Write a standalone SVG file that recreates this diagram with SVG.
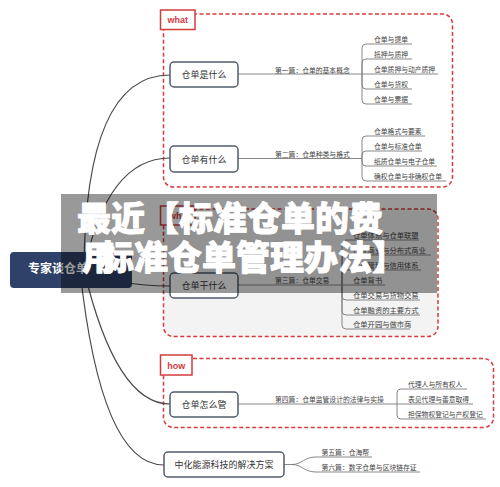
<svg xmlns="http://www.w3.org/2000/svg" width="500" height="487" viewBox="0 0 500 487">
<style>
.cjk{font-family:"Noto Sans CJK SC","Noto Sans",sans-serif}
.node rect{fill:#fff;stroke:#525c6c;stroke-width:1.5}
.node text{font-family:"Noto Sans CJK SC",sans-serif;font-size:9px;fill:#333;text-anchor:middle}
.main{fill:none;stroke:#4a4a4a;stroke-width:1.2}
.sub{fill:none;stroke:#7a7a7a;stroke-width:0.9}
.lbl{font-family:"Noto Sans CJK SC",sans-serif;font-size:6.8px;fill:#444}
.it{font-family:"Noto Sans CJK SC",sans-serif;font-size:6.8px;fill:#444}
.it3{font-family:"Noto Sans CJK SC",sans-serif;font-size:7.3px;fill:#444}
.dash{fill:none;stroke:#d43c3c;stroke-width:1.5;stroke-dasharray:4 2.5}
.tag rect{fill:#fff;stroke:#d43c3c;stroke-width:1.5}
.tag text{font-family:"Liberation Sans",Arial,sans-serif;font-size:9px;font-weight:bold;fill:#d43c3c;text-anchor:middle}
.ov{font-family:"Noto Sans CJK SC",sans-serif;font-size:34px;font-weight:900;fill:#fff;stroke:#fff;stroke-width:0.9;stroke-linejoin:round}
</style>
<rect width="500" height="487" fill="#fff"/>

<g id="frames">
<rect class="dash" x="163.5" y="14" width="289" height="173" rx="10"/>
<rect class="dash" x="163.5" y="209" width="274.5" height="127.5" rx="10" style="fill:#f3f3f3"/>
<rect class="dash" x="163.5" y="358.5" width="330" height="69" rx="10"/>
</g>

<g id="connectors">
<path class="main" d="M84 270 Q85 75 170 75"/>
<path class="main" d="M84 270 Q107 158 170 158"/>
<path class="main" d="M84 270 Q118 286 170 286"/>
<path class="main" d="M84 270 Q116 404 170 404"/>
<path class="main" d="M80 270 Q101 465 164 465"/>

<path class="sub" d="M238 74 H362"/>
<path class="sub" d="M362 74 V48 Q362 44 366 44 H412"/>
<path class="sub" d="M362 74 V63 Q362 59 366 59 H412"/>
<path class="sub" d="M362 74 H438"/>
<path class="sub" d="M362 74 V85 Q362 89 366 89 H412"/>
<path class="sub" d="M362 74 V100 Q362 104 366 104 H412"/>

<path class="sub" d="M238 158.5 H362"/>
<path class="sub" d="M362 158.5 V140 Q362 136 366 136 H425"/>
<path class="sub" d="M362 158.5 V155 Q362 151 366 151 H422"/>
<path class="sub" d="M362 158.5 V162 Q362 166 366 166 H437"/>
<path class="sub" d="M362 158.5 V177 Q362 181 366 181 H446"/>

<path class="sub" d="M238 285 H342"/>
<path class="sub" d="M342 285 V244 Q342 240 346 240 H419"/>
<path class="sub" d="M342 285 V259 Q342 255 346 255 H431"/>
<path class="sub" d="M342 285 V274 Q342 270 346 270 H421"/>
<path class="sub" d="M342 285 H385"/>
<path class="sub" d="M342 285 V296 Q342 300 346 300 H420"/>
<path class="sub" d="M342 285 V311 Q342 315 346 315 H420"/>
<path class="sub" d="M342 285 V325 Q342 329 346 329 H410"/>

<path class="sub" d="M238 404 H397"/>
<path class="sub" d="M397 404 V393 Q397 389 401 389 H467"/>
<path class="sub" d="M397 404 H473"/>
<path class="sub" d="M397 404 V415 Q397 419 401 419 H486"/>

<path class="sub" d="M284 464.5 H292 C302 464.5 304 457 316 457 H372"/>
<path class="sub" d="M292 464.5 C302 464.5 304 472 316 472 H420"/>
</g>

<g id="root">
<rect x="10" y="252" width="122" height="36" rx="4" fill="#2f4168"/>
<text class="cjk" x="28" y="273" font-size="12" font-weight="bold" fill="#fff">专家谈仓单</text>
</g>

<g id="n1" class="node"><rect x="170" y="62" width="68" height="25" rx="4"/><text x="204" y="78">仓单是什么</text></g>
<g id="n2" class="node"><rect x="170" y="146" width="68" height="26" rx="4"/><text x="204" y="162.5">仓单有什么</text></g>
<g id="n3" class="node"><rect x="170" y="273" width="68" height="25" rx="4"/><text x="204" y="289">仓单干什么</text></g>
<g id="n4" class="node"><rect x="170" y="392" width="68" height="25" rx="4"/><text x="204" y="408">仓单怎么管</text></g>
<g id="n5" class="node"><rect x="164" y="452" width="120" height="25" rx="4"/><text x="224" y="468">中化能源科技的解决方案</text></g>

<g id="tags">
<g class="tag"><rect x="160.5" y="10" width="34.5" height="19.5"/><text x="177.7" y="23.3">what</text></g>
<g class="tag"><rect x="160.5" y="206" width="34.5" height="19"/><text x="177.7" y="219">why</text></g>
<g class="tag"><rect x="160.5" y="355" width="31.5" height="20"/><text x="176.2" y="368.5">how</text></g>
</g>

<g id="labels">
<text class="lbl" x="275" y="72.5">第一篇：仓单的基本概念</text>
<text class="lbl" x="275" y="156.5">第二篇：仓单种类与格式</text>
<text class="lbl" x="275" y="283">第三篇：仓单交易</text>
<text class="lbl" x="275" y="402">第四篇：仓单监管设计的法律与实操</text>
</g>

<g id="items1">
<text class="it" x="374" y="41.5">仓单与提单</text>
<text class="it" x="374" y="56.5">抵押与质押</text>
<text class="it" x="374" y="71.5">仓单质押与动产质押</text>
<text class="it" x="374" y="86.5">仓单与货权</text>
<text class="it" x="374" y="101.5">仓单与票据</text>
</g>
<g id="items2">
<text class="it" x="374" y="133.5">仓单格式与要素</text>
<text class="it" x="374" y="148.5">仓单与标准仓单</text>
<text class="it" x="374" y="163.5">纸质仓单与电子仓单</text>
<text class="it" x="374" y="178.5">确权仓单与非确权仓单</text>
</g>
<g id="items3">
<text class="it3" x="353" y="237.5">仓单体系与仓单联盟</text>
<text class="it3" x="353" y="252.5">传统商业与分布式商业</text>
<text class="it3" x="353" y="267.5">仓单管理与信用体系</text>
<text class="it3" x="353" y="282.5">仓单背书</text>
<text class="it3" x="353" y="297.5">仓单交易与货物交易</text>
<text class="it3" x="353" y="312.5">仓单融资的主要方式</text>
<text class="it3" x="353" y="326.5">仓单开园与做市商</text>
</g>
<g id="items4">
<text class="it" x="408" y="386.5">代理人与所有权人</text>
<text class="it" x="408" y="401.5">表见代理与善意取得</text>
<text class="it" x="408" y="416.5">担保物权登记与产权登记</text>
</g>
<g id="items5">
<text class="it" x="321.5" y="454.5">第五篇：仓海帮</text>
<text class="it" x="321.5" y="469.5">第六篇：数字仓单与区块链存证</text>
</g>

<g id="overlay">
<rect x="61" y="194" width="376" height="99" fill="#000" fill-opacity="0.4"/>
<text class="ov" x="77" y="231">最近【标准仓单的费</text>
<text class="ov" x="82" y="270">用</text>
<text class="ov" x="100" y="270">标准仓单管理办法】</text>
</g>
</svg>
